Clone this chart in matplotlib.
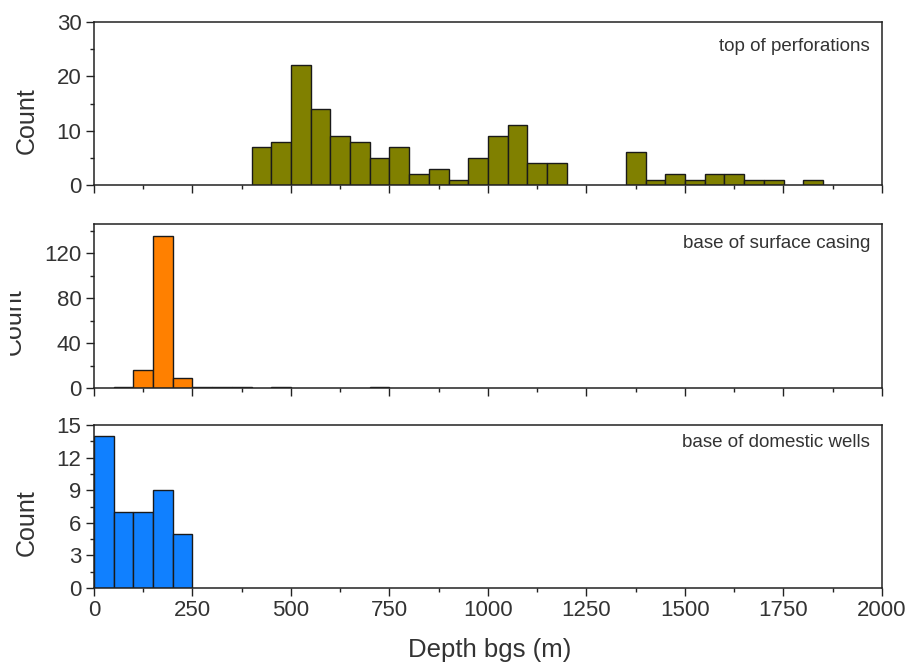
import matplotlib
matplotlib.use("Agg")
import matplotlib.pyplot as plt
import numpy as np
from matplotlib.ticker import MultipleLocator
from matplotlib.transforms import Bbox

plt.rcParams['font.family'] = ['Liberation Sans', 'DejaVu Sans']

# histogram data, 50 m bins, first value starts at the given left edge
bin_width = 50

perf_start = 400
perf_counts = [7, 8, 22, 14, 9, 8, 5, 7, 2, 3, 1, 5, 9, 11, 4, 4,
               0, 0, 0, 6, 1, 2, 1, 2, 2, 1, 1, 0, 1]

casing_start = 50
casing_counts = [1, 16, 135, 9, 1, 1, 1, 0, 1, 0, 0, 0, 0, 1]

domestic_start = 0
domestic_counts = [14, 7, 7, 9, 5]

panel_names = ["top of perforations", "base of surface casing",
               "base of domestic wells"]
colors = ["#808000", "#ff8000", "#1080ff"]
ylims = [30, 146, 15]
ymajor = [10, 40, 3]
yminor = [5, 20, 1.5]
xticks = [0, 250, 500, 750, 1000, 1250, 1500, 1750, 2000]
name_y = [0.85, 0.88, 0.89]

fig = plt.figure(figsize=(9.12, 6.66), dpi=100)
W, H = 912, 666
left, right = 94 / W, 882 / W
boxes = [(22, 185), (224, 388), (425, 588)]

axes = []
for top, bot in boxes:
    ax = fig.add_axes([left, 1 - bot / H, right - left, (bot - top) / H])
    axes.append(ax)

series = [(perf_start, perf_counts), (casing_start, casing_counts),
          (domestic_start, domestic_counts)]

for i, ax in enumerate(axes):
    start, counts = series[i]
    counts = np.array(counts)
    lefts = start + bin_width * np.arange(len(counts))
    keep = counts > 0
    ax.bar(lefts[keep], counts[keep], width=bin_width, align='edge',
           color=colors[i], edgecolor='#1a1a1a', linewidth=1.0, zorder=2)
    ax.set_xlim(0, 2000)
    ax.set_ylim(0, ylims[i])
    ax.set_xticks(xticks)
    ax.xaxis.set_minor_locator(MultipleLocator(125))
    ax.yaxis.set_major_locator(MultipleLocator(ymajor[i]))
    ax.yaxis.set_minor_locator(MultipleLocator(yminor[i]))
    ax.tick_params(which='major', direction='out', length=6, width=1.0,
                   color='#222222', labelsize=16, labelcolor='#333333', pad=3)
    ax.tick_params(which='minor', direction='out', length=3, width=1.0,
                   color='#222222')
    ax.tick_params(top=False, right=False)
    for sp in ax.spines.values():
        sp.set_color('#222222')
        sp.set_linewidth(1.1)
    if i < 2:
        ax.tick_params(labelbottom=False)
    ax.text(0.985, name_y[i], panel_names[i], transform=ax.transAxes,
            ha='right', va='center', fontsize=13.5, color='#333333')

# y labels, the middle one is cut at the left edge like in the source image
label_y = [120.5, 321.7, 523]
label_x = [26.5, 13.5, 26.5]
for i in range(3):
    t = fig.text(label_x[i] / W, 1 - label_y[i] / H, "Count", rotation=90,
                 ha='center', va='center', fontsize=18, color='#333333')
    if i == 1:
        t.set_clip_box(Bbox([[10, 0], [W, H]]))
        t.set_clip_on(True)

fig.text(490 / W, 1 - 650 / H, "Depth bgs (m)", ha='center', va='center',
         fontsize=18.5, color='#333333')

fig.savefig("out.png", dpi=100)
